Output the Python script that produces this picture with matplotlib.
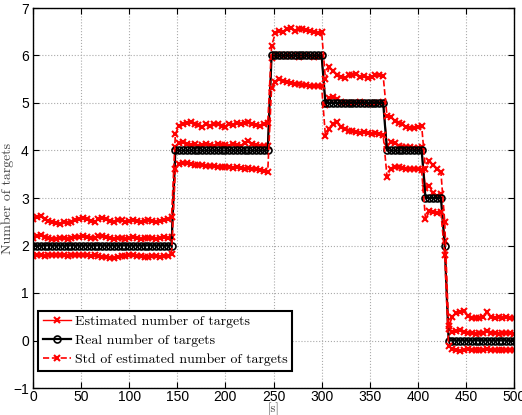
import numpy as np
import matplotlib; matplotlib.use("Agg"); import matplotlib.pyplot as plt

# time axis [s], one sample every 4 s
t = np.arange(0, 501, 4)

real = [2, 2, 2, 2, 2, 2, 2, 2, 2, 2, 2, 2, 2, 2, 2, 2, 2, 2, 2, 2, 2, 2, 2, 2, 2, 2, 2, 2, 2, 2, 2, 2, 2, 2, 2, 2, 2,
        4, 4, 4, 4, 4, 4, 4, 4, 4, 4, 4, 4, 4, 4, 4, 4, 4, 4, 4, 4, 4, 4, 4, 4, 4,
        6, 6, 6, 6, 6, 6, 6, 6, 6, 6, 6, 6, 6, 6,
        5, 5, 5, 5, 5, 5, 5, 5, 5, 5, 5, 5, 5, 5, 5, 5,
        4, 4, 4, 4, 4, 4, 4, 4, 4, 4,
        3, 3, 3, 3, 3,
        2,
        0, 0, 0, 0, 0, 0, 0, 0, 0, 0, 0, 0, 0, 0, 0, 0, 0, 0]

est = [2.15, 2.2, 2.22, 2.17, 2.15, 2.13, 2.14, 2.16, 2.15, 2.13, 2.15, 2.17, 2.18, 2.2, 2.17, 2.15, 2.16, 2.19, 2.2,
       2.17, 2.15, 2.13, 2.15, 2.16, 2.14, 2.15, 2.17, 2.16, 2.14, 2.15, 2.16, 2.15, 2.13, 2.15, 2.17, 2.16, 2.18,
       4.08, 4.15, 4.17, 4.14, 4.12, 4.13, 4.1, 4.11, 4.14, 4.12, 4.1, 4.13, 4.11, 4.12, 4.1, 4.14, 4.12, 4.1, 4.16,
       4.2, 4.13, 4.11, 4.1, 4.09, 4.1,
       5.95, 6.02, 6.0, 5.99, 6.01, 5.98, 6.0, 5.97, 5.99, 6.0, 5.98, 5.97, 5.99, 5.98,
       4.95, 5.1, 5.12, 5.08, 5.03, 5.0, 5.01, 4.99, 5.0, 5.02, 5.0, 4.98, 5.0, 4.99, 5.01, 5.02,
       4.1, 4.18, 4.15, 4.1, 4.08, 4.07, 4.08, 4.06, 4.05, 4.07,
       3.2, 3.25, 3.1, 3.05, 3.08,
       2.1,
       0.25, 0.18, 0.2, 0.22, 0.17, 0.15, 0.16, 0.14, 0.15, 0.16, 0.2, 0.16, 0.15, 0.14, 0.15, 0.16, 0.15, 0.14]

std_hi = [2.55, 2.6, 2.62, 2.55, 2.52, 2.5, 2.47, 2.46, 2.5, 2.48, 2.5, 2.53, 2.56, 2.58, 2.55, 2.52, 2.5, 2.55, 2.58,
          2.55, 2.52, 2.5, 2.54, 2.53, 2.5, 2.52, 2.53, 2.52, 2.5, 2.52, 2.53, 2.51, 2.5, 2.52, 2.53, 2.55, 2.6,
          4.35, 4.52, 4.55, 4.58, 4.6, 4.55, 4.53, 4.5, 4.55, 4.52, 4.55, 4.56, 4.52, 4.5, 4.55, 4.53, 4.57, 4.55,
          4.58, 4.6, 4.55, 4.53, 4.52, 4.55, 4.57,
          6.2, 6.48, 6.52, 6.5, 6.55, 6.58, 6.52, 6.55, 6.56, 6.53, 6.52, 6.5, 6.48, 6.5,
          5.5, 5.75, 5.68, 5.6, 5.55, 5.52, 5.58, 5.6, 5.62, 5.55, 5.57, 5.53, 5.55, 5.58, 5.6, 5.57,
          4.72, 4.7, 4.63, 4.58, 4.55, 4.5, 4.47, 4.48, 4.5, 4.52,
          3.6, 3.78, 3.7, 3.62, 3.55,
          2.5,
          0.3, 0.5, 0.58, 0.6, 0.62, 0.52, 0.48, 0.47, 0.48, 0.5, 0.6, 0.5, 0.48, 0.5, 0.47, 0.49, 0.48, 0.47]

std_lo = [1.77, 1.8, 1.79, 1.78, 1.8, 1.79, 1.8, 1.81, 1.79, 1.78, 1.8, 1.79, 1.8, 1.81, 1.79, 1.78, 1.8, 1.78, 1.76,
          1.75, 1.74, 1.73, 1.75, 1.77, 1.78, 1.79, 1.8, 1.78, 1.77, 1.76, 1.75, 1.77, 1.78, 1.76, 1.77, 1.78, 1.82,
          3.6, 3.72, 3.74, 3.73, 3.72, 3.7, 3.69, 3.7, 3.68, 3.67, 3.68, 3.66, 3.65, 3.66, 3.65, 3.64, 3.65, 3.64,
          3.62, 3.63, 3.61, 3.6, 3.58, 3.57, 3.55,
          5.32, 5.45, 5.5, 5.47, 5.45, 5.42, 5.4, 5.4, 5.38, 5.37, 5.36, 5.35, 5.36, 5.35,
          4.3, 4.45, 4.55, 4.6, 4.5, 4.45, 4.42, 4.4, 4.38, 4.37, 4.38, 4.36, 4.35, 4.36, 4.34, 4.33,
          3.45, 3.62, 3.66, 3.65, 3.63, 3.62, 3.6, 3.62, 3.6, 3.58,
          2.55, 2.72, 2.7, 2.68, 2.7,
          1.8,
          -0.12, -0.18, -0.2, -0.22, -0.2, -0.18, -0.2, -0.19, -0.2, -0.21, -0.18, -0.2, -0.19, -0.2, -0.21, -0.2,
          -0.19, -0.2]

plt.rcParams['font.family'] = ['Liberation Sans', 'DejaVu Sans']
serif = ['cmr10', 'DejaVu Serif']

fig = plt.figure(figsize=(5.22, 4.15), dpi=100)
ax = fig.add_axes([33/522, 27/415, 481/522, 380/415])

ax.plot(t, est, color='red', lw=1.0, marker='x', ms=4, mew=1.5, label='Estimated number of targets')
ax.plot(t, real, color='black', lw=1.6, marker='o', ms=5, mew=1.2, mfc='none',
        label='Real number of targets')
ax.plot(t, std_hi, color='red', lw=1.2, ls='--', marker='x', ms=4, mew=1.5,
        label='Std of estimated number of targets')
ax.plot(t, std_lo, color='red', lw=1.2, ls='--', marker='x', ms=4, mew=1.5)

ax.set_xlim(0, 500); ax.set_ylim(-1, 7)
ax.set_xticks(np.arange(0, 501, 50)); ax.set_yticks(np.arange(-1, 8, 1))
ax.tick_params(direction='in', top=True, right=True, labelsize=10, length=4, pad=1.5)
ax.tick_params(axis='y', pad=3)
ax.grid(True, ls=':', lw=0.8, color='#aaaaaa')
for s in ax.spines.values():
    s.set_linewidth(1.0)
ax.set_xlabel('[s]', family=serif, fontsize=9, color='#444444')
ax.set_ylabel('Number of targets', family=serif, fontsize=10, color='#444444')
ax.xaxis.set_label_coords(0.5, -0.039)
ax.yaxis.set_label_coords(-0.04, 0.50)

leg = ax.legend(loc='lower left', bbox_to_anchor=(0.0104, 0.0447), borderaxespad=0,
                prop={'family': serif, 'size': 10}, fancybox=False, framealpha=1,
                edgecolor='black', handlelength=2.0, handletextpad=0.3,
                labelspacing=0.45, borderpad=0.35)
leg.get_frame().set_linewidth(1.5)

fig.savefig('out.png', dpi=100)
